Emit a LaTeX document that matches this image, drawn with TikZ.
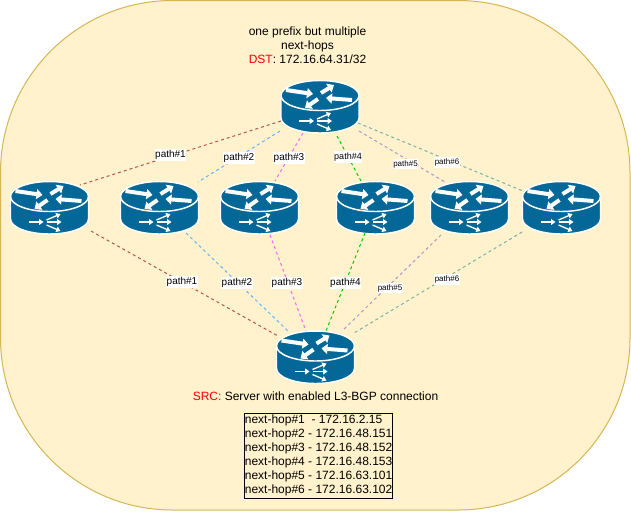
\documentclass[tikz,border=0pt]{standalone}
\usepackage{fontspec}
\setmainfont{Liberation Sans}
\usetikzlibrary{arrows.meta, positioning, calc}
\definecolor{panelfill}{RGB}{255,242,204}
\definecolor{paneldraw}{RGB}{214,182,86}
\definecolor{routerblue}{RGB}{3,104,151}
\definecolor{pathred}{RGB}{184,84,80}
\definecolor{pathblue}{RGB}{102,178,255}
\definecolor{pathpink}{RGB}{255,102,255}
\definecolor{pathgreen}{RGB}{0,204,0}
\definecolor{pathpurple}{RGB}{176,150,205}
\definecolor{pathteal}{RGB}{120,178,165}
\newcommand{\routericon}{
    \draw[white, fill=routerblue, line width=1.1pt] (-39,-11.5) -- (-39,11) arc[start angle=180, end angle=360, x radius=29.25pt, y radius=11.25pt] -- (39,-11.5) arc[start angle=0, end angle=180, x radius=29.25pt, y radius=11.25pt] -- cycle;
    \draw[white, line width=1.1pt] (-39,-11.5) arc[start angle=180, end angle=360, x radius=29.25pt, y radius=11.25pt];
    \draw[bigflow] (-34,-17) -- (-7,-13);
    \draw[bigflow] (1,-14) -- (14,-22);
    \draw[bigflow] (32,-7) -- (6,-9);
    \draw[bigflow] (-2,-8) -- (-15,1);
    \draw[smallflow] (-21,14) -- (-6,14);
    \draw[smallflow] (-3,12) -- (11,6);
    \draw[smallflow] (-3,14) -- (12,14);
    \draw[smallflow] (-3,17) -- (11,23);
}
\begin{document}
\begin{tikzpicture}[
    x=0.75pt, y=-0.75pt,
    panel/.style={fill=panelfill, draw=paneldraw, line width=0.75pt, rounded corners=129pt},
    router/.style={rectangle, inner sep=0pt, minimum width=61.5pt, minimum height=43.5pt, path picture={\routericon}},
    bigflow/.style={white, line width=3pt, -{Triangle[length=4.5pt, width=7.5pt]}},
    smallflow/.style={white, line width=1pt, -{Triangle[length=3.2pt, width=4.2pt]}},
    hop/.style={dash pattern=on 2.25pt off 2.25pt, line width=0.75pt},
    pathlabel/.style={fill=white, inner xsep=0.5pt, inner ysep=1pt, font=\fontsize{7.5}{9}\selectfont},
    tinylabel/.style={pathlabel, font=\fontsize{6}{7}\selectfont},
    note/.style={align=center, font=\fontsize{9}{10.5}\selectfont},
    hopbox/.style={draw=black, line width=0.75pt, align=left, inner xsep=0.2pt, inner ysep=0pt, minimum height=63.75pt, font=\fontsize{9}{10.5}\selectfont}
]

\useasboundingbox (0,0) rectangle (631,512);
\draw[panel] (0.5,0.5) rectangle (630,510);

\node[router] (dst) at (320,107) {};
\node[router] (hop1) at (49.5,208) {};
\node[router] (hop2) at (159.5,208) {};
\node[router] (hop3) at (259.5,208) {};
\node[router] (hop4) at (375.5,208) {};
\node[router] (hop5) at (469.5,208) {};
\node[router] (hop6) at (561.5,208) {};
\node[router] (src) at (315.5,357.5) {};

\draw[hop, pathred] ([shift={(-39,14)}]dst.center) -- ([shift={(30.5,-23)}]hop1.center);
\draw[hop, pathblue] ([shift={(-40,24)}]dst.center) -- ([shift={(38.5,-26)}]hop2.center);
\draw[hop, pathpink] ([shift={(-17,26)}]dst.center) -- ([shift={(15.5,-27)}]hop3.center);
\draw[hop, pathgreen] ([shift={(17,29)}]dst.center) -- ([shift={(-14.5,-27)}]hop4.center);
\draw[hop, pathpurple] ([shift={(39,24)}]dst.center) -- ([shift={(-24.5,-26)}]hop5.center);
\draw[hop, pathteal] ([shift={(38,16)}]dst.center) -- ([shift={(-38.5,-17)}]hop6.center);

\draw[hop, pathred] ([shift={(41.5,23)}]hop1.center) -- ([shift={(-37.5,-21.5)}]src.center);
\draw[hop, pathblue] ([shift={(26.5,25)}]hop2.center) -- ([shift={(-27.5,-26.5)}]src.center);
\draw[hop, pathpink] ([shift={(10.5,27)}]hop3.center) -- ([shift={(-9.5,-26.5)}]src.center);
\draw[hop, pathgreen] ([shift={(-10.5,25)}]hop4.center) -- ([shift={(10.5,-26.5)}]src.center);
\draw[hop, pathpurple] ([shift={(-28.5,27)}]hop5.center) -- ([shift={(26.5,-26.5)}]src.center);
\draw[hop, pathteal] ([shift={(-39.5,24)}]hop6.center) -- ([shift={(38.5,-24.5)}]src.center);

\node[pathlabel] (up1) at (170.5,155) {path\#1};
\node[pathlabel] (up2) at (239,157.5) {path\#2};
\node[pathlabel] (up3) at (289,157.5) {path\#3};
\node[pathlabel, font=\fontsize{6.75}{8}\selectfont] (up4) at (348,157) {path\#4};
\node[tinylabel] (up5) at (405.5,164) {path\#5};
\node[tinylabel] (up6) at (447,162.5) {path\#6};

\node[pathlabel] (down1) at (182,282) {path\#1};
\node[pathlabel] (down2) at (237,283) {path\#2};
\node[pathlabel] (down3) at (287,283) {path\#3};
\node[pathlabel] (down4) at (345.5,283) {path\#4};
\node[tinylabel] (down5) at (390,288) {path\#5};
\node[tinylabel] (down6) at (447,279.5) {path\#6};

\node[note] (dstnote) at (307.5,45.5) {one prefix but multiple\\next-hops\\\textcolor{red}{DST}: 172.16.64.31/32};
\node[note] (srcnote) at (315.5,396.5) {\textcolor{red}{SRC:} Server with enabled L3-BGP connection};
\node[hopbox] (hoptable) at (318.6,455.5) {next-hop\#1\ \ - 172.16.2.15\\next-hop\#2 - 172.16.48.151\\next-hop\#3 - 172.16.48.152\\next-hop\#4 - 172.16.48.153\\next-hop\#5 - 172.16.63.101\\next-hop\#6 - 172.16.63.102};

\end{tikzpicture}
\end{document}
